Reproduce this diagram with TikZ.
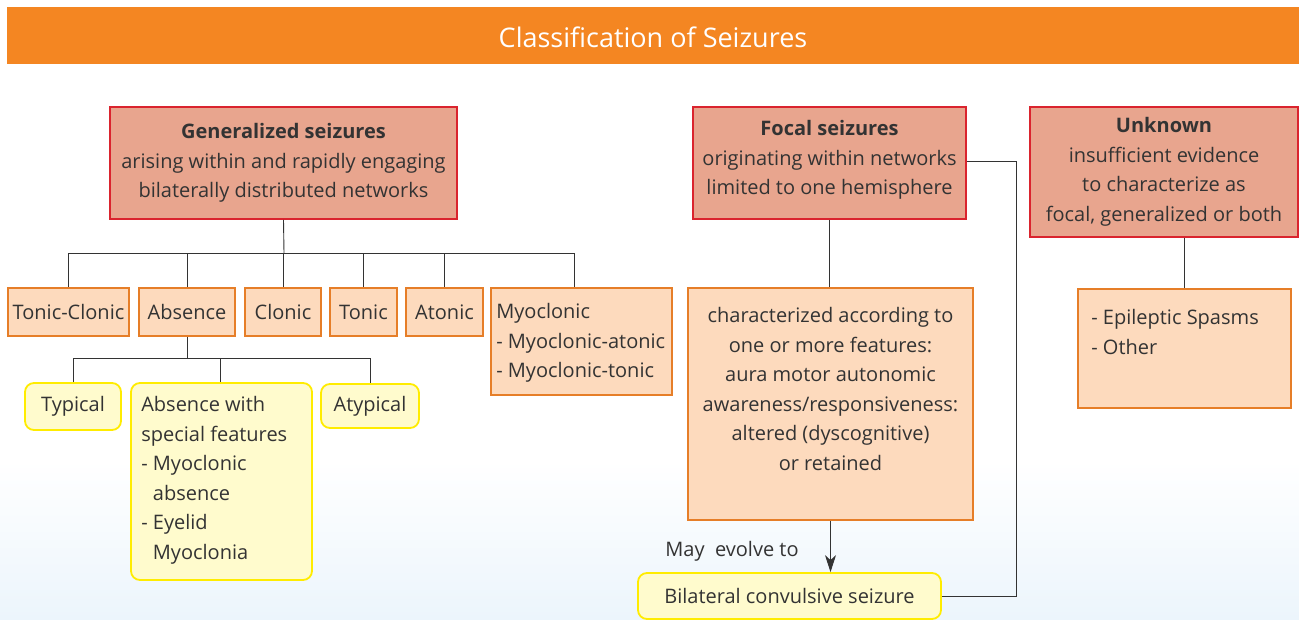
\documentclass[tikz,border=0pt]{standalone}
\usepackage{fontspec}
\setmainfont{Open Sans}
\usetikzlibrary{arrows.meta,positioning}

\definecolor{titleorange}{RGB}{244,134,34}
\definecolor{redfill}{RGB}{232,165,142}
\definecolor{redline}{RGB}{218,36,46}
\definecolor{peach}{RGB}{253,218,189}
\definecolor{peachline}{RGB}{230,126,40}
\definecolor{paleyellow}{RGB}{255,251,205}
\definecolor{yellowline}{RGB}{255,236,0}
\definecolor{inkgray}{RGB}{51,51,51}
\definecolor{skyfade}{RGB}{236,245,252}

\tikzset{
  every node/.style={font=\fontsize{20}{29.5}\selectfont, text=inkgray},
  mainbox/.style={draw=redline, fill=redfill, line width=1.8pt, align=center, inner sep=0pt},
  subbox/.style={draw=peachline, fill=peach, line width=1.8pt, align=center, inner sep=0pt},
  leafbox/.style={draw=yellowline, fill=paleyellow, line width=1.8pt, rounded corners=9pt, inner sep=0pt},
  boxtext/.style={inner sep=0pt, align=left},
  link/.style={draw=black!80, line width=0.9pt},
}

\begin{document}
\begin{tikzpicture}[x=1pt,y=-1pt]
\useasboundingbox (0,0) rectangle (1299,619);
\fill[white] (0,0) rectangle (1299,619);
\shade[top color=white,bottom color=skyfade] (0,460) rectangle (1299,619);

% title bar
\fill[titleorange] (7,7) rectangle (1299,64);
\node[text=white, font=\fontsize{27}{30}\selectfont] (title) at (653,37) {Classification of Seizures};

% top level
\node[mainbox, minimum width=347, minimum height=112] (gen) at (283.5,163)
  {\textbf{Generalized seizures}\\arising within and rapidly engaging\\bilaterally distributed networks};
\node[mainbox, minimum width=273, minimum height=112, text depth=11pt] (foc) at (829.5,163)
  {\textbf{Focal seizures}\\originating within networks\\limited to one hemisphere};
\node[mainbox, minimum width=268, minimum height=130] (unk) at (1164,172)
  {\textbf{Unknown}\\insufficient evidence\\to characterize as\\focal, generalized or both};

% generalized types
\node[subbox, minimum width=121, minimum height=48] (tc) at (68.5,312) {Tonic-Clonic};
\node[subbox, minimum width=96, minimum height=48] (abs) at (187,312) {Absence};
\node[subbox, minimum width=76, minimum height=48] (clo) at (283,312) {Clonic};
\node[subbox, minimum width=67, minimum height=48] (ton) at (363.5,312) {Tonic};
\node[subbox, minimum width=77, minimum height=48] (ato) at (444.5,312) {Atonic};
\node[subbox, minimum width=181, minimum height=107] (myo) at (581.5,341.5) {};
\node[boxtext, anchor=north west] (myot) at ([xshift=6pt,yshift=-16pt]myo.north west)
  {Myoclonic\\- Myoclonic-atonic\\- Myoclonic-tonic};

% absence types
\node[leafbox, minimum width=96, minimum height=47] (typ) at (73,406.5) {Typical};
\node[leafbox, minimum width=181, minimum height=197] (spf) at (221.5,481.5) {};
\node[boxtext, anchor=north west] (spft) at ([xshift=11pt,yshift=-14pt]spf.north west)
  {Absence with\\special features\\- Myoclonic\\\hphantom{- }absence\\- Eyelid\\\hphantom{- }Myoclonia};
\node[leafbox, minimum width=98, minimum height=44] (aty) at (370,406) {Atypical};

% focal branch
\node[subbox, minimum width=285, minimum height=232] (cha) at (830.5,404) {};
\node[inner sep=0pt, align=center, anchor=north] (chat) at ([yshift=-20pt]cha.north)
  {characterized according to\\one or more features:\\aura motor autonomic\\awareness/responsiveness:\\altered (dyscognitive)\\or retained};
\node[leafbox, minimum width=303, minimum height=46] (bil) at (789.5,596) {Bilateral convulsive seizure};
\node (may) at (732,551) {May\ \ evolve to};

% unknown branch
\node[subbox, minimum width=213, minimum height=119] (oth) at (1184.5,348.5) {};
\node[boxtext, anchor=north west] (otht) at ([xshift=14pt,yshift=-21pt]oth.north west)
  {- Epileptic Spasms\\- Other};

% connectors
\coordinate (gj) at (284,253);
\draw[link] (gen.south) -- (gj);
\foreach \n in {tc,abs,clo,ton,ato}
  \draw[link] (gj) -| (\n.north);
\draw[link] (gj) -| ([xshift=-7pt]myo.north);

\coordinate (aj) at (187,358);
\draw[link] (abs.south) -- (aj);
\foreach \n in {typ,aty}
  \draw[link] (aj) -| (\n.north);
\draw[link] (aj) -| ([xshift=-1.5pt]spf.north);

\draw[link] (foc.south) -- (foc.south |- cha.north);
\draw[link,-{Stealth[length=17pt,width=11pt,inset=5pt]}] (cha.south) -- (cha.south |- bil.north);
\draw[link] ([yshift=2pt]foc.east) -- ++(50,0) |- (bil.east);

\draw[link] (oth.north |- unk.south) -- (oth.north);
\end{tikzpicture}
\end{document}
